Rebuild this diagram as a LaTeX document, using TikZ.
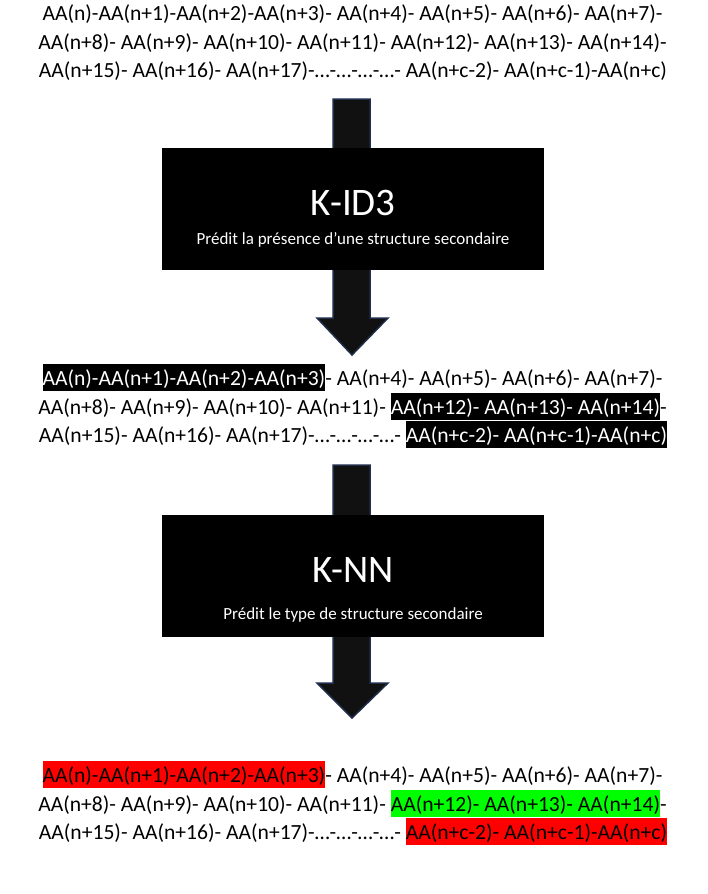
\documentclass[tikz,border=0pt]{standalone}
\usepackage{fontspec}
\setmainfont{Carlito}
\usepackage{xcolor}
\definecolor{arrowfill}{HTML}{111111}
\definecolor{arrowedge}{HTML}{1F2D4A}
\definecolor{hlred}{HTML}{FF0000}
\definecolor{hlgreen}{HTML}{00FF00}
\newcommand\hlbox[3]{{\setlength\fboxsep{0pt}\colorbox{#1}{\rule[-5.7pt]{0pt}{27pt}\textcolor{#2}{#3}}}}
\tikzset{
  seqline/.style={anchor=base, inner sep=0pt, font=\fontsize{21.6}{28}\selectfont},
  procbox/.style={fill=black, draw=none, minimum width=382pt, minimum height=122pt, inner sep=0pt},
  proctitle/.style={anchor=base, inner sep=0pt, text=white, font=\fontsize{39}{44}\selectfont},
  procsub/.style={anchor=base, inner sep=0pt, text=white, font=\fontsize{17}{20}\selectfont},
  blockarrow/.style={fill=arrowfill, draw=arrowedge, line width=1.5pt, line join=miter}
}
\begin{document}
\begin{tikzpicture}[x=1pt,y=-1pt]
\useasboundingbox[fill=white] (0,0) rectangle (707,894);

% input sequence
\node[seqline] (s1a) at (352.5,20.7) {AA(n)-AA(n+1)-AA(n+2)-AA(n+3)- AA(n+4)- AA(n+5)- AA(n+6)- AA(n+7)-};
\node[seqline] (s1b) at (352.5,49) {AA(n+8)- AA(n+9)- AA(n+10)- AA(n+11)- AA(n+12)- AA(n+13)- AA(n+14)-};
\node[seqline] (s1c) at (353,77.5) {AA(n+15)- AA(n+16)- AA(n+17)-…-…-…-…- AA(n+c-2)- AA(n+c-1)-AA(n+c)};

% arrow 1 through K-ID3
\coordinate (a1s) at (352,99);
\coordinate (a1t) at (352,355);
\draw[blockarrow] ([xshift=-19pt]a1s) -- ([xshift=18pt]a1s) -- ([xshift=18pt,yshift=37pt]a1t) -- ([xshift=36pt,yshift=37pt]a1t) -- (a1t) -- ([xshift=-35pt,yshift=37pt]a1t) -- ([xshift=-19pt,yshift=37pt]a1t) -- cycle;
\node[procbox] (kid3) at (353,209) {};
\node[proctitle] (kid3t) at (353,215) {K-ID3};
\node[procsub] (kid3s) at (353,244) {Prédit la présence d’une structure secondaire};

% sequence after K-ID3
\node[seqline] (s2a) at (352.5,385.7) {\hlbox{black}{white}{AA(n)-AA(n+1)-AA(n+2)-AA(n+3)}- AA(n+4)- AA(n+5)- AA(n+6)- AA(n+7)-};
\node[seqline] (s2b) at (352.5,414) {AA(n+8)- AA(n+9)- AA(n+10)- AA(n+11)- \hlbox{black}{white}{AA(n+12)- AA(n+13)- AA(n+14)}-};
\node[seqline] (s2c) at (353,442.3) {AA(n+15)- AA(n+16)- AA(n+17)-…-…-…-…- \hlbox{black}{white}{AA(n+c-2)- AA(n+c-1)-AA(n+c)}};

% arrow 2 through K-NN
\coordinate (a2s) at (352,465);
\coordinate (a2t) at (352,718);
\draw[blockarrow] ([xshift=-19pt]a2s) -- ([xshift=18pt]a2s) -- ([xshift=18pt,yshift=35pt]a2t) -- ([xshift=36pt,yshift=35pt]a2t) -- (a2t) -- ([xshift=-35pt,yshift=35pt]a2t) -- ([xshift=-19pt,yshift=35pt]a2t) -- cycle;
\node[procbox] (knn) at (353,576) {};
\node[proctitle] (knnt) at (353,582) {K-NN};
\node[procsub] (knns) at (353,619) {Prédit le type de structure secondaire};

% sequence after K-NN
\node[seqline] (s3a) at (352.5,782.7) {\hlbox{hlred}{black}{AA(n)-AA(n+1)-AA(n+2)-AA(n+3)}- AA(n+4)- AA(n+5)- AA(n+6)- AA(n+7)-};
\node[seqline] (s3b) at (352.5,811) {AA(n+8)- AA(n+9)- AA(n+10)- AA(n+11)- \hlbox{hlgreen}{black}{AA(n+12)- AA(n+13)- AA(n+14)}-};
\node[seqline] (s3c) at (353,839.3) {AA(n+15)- AA(n+16)- AA(n+17)-…-…-…-…- \hlbox{hlred}{black}{AA(n+c-2)- AA(n+c-1)-AA(n+c)}};
\end{tikzpicture}
\end{document}
